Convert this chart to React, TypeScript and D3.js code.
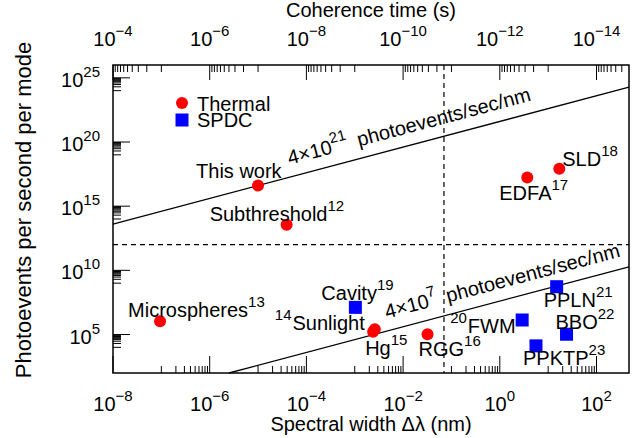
import * as d3 from "d3";

// axis ticks (every two decades on x, five on y)
const widthTicks = [1e-8, 1e-6, 1e-4, 1e-2, 1, 1e2];
const timeTicks = [1e-4, 1e-6, 1e-8, 1e-10, 1e-12, 1e-14];
const rateTicks = [1e5, 1e10, 1e15, 1e20, 1e25];

// thermal sources: spectral width (nm), photoevents per second per mode
const thermalNames = ["This work", "Subthreshold", "EDFA", "SLD", "Microspheres", "Sunlight", "Hg", "RGG"];
const thermalRefs = ["", "12", "17", "18", "13", "14", "15", "16"];
const thermalWidth = [1e-5, 3.9e-5, 3.7, 17, 9.4e-8, 2.6e-3, 2.4e-3, 0.032];
const thermalRate = [4e16, 3.5e13, 1.7e17, 8.4e17, 1.07e6, 2.6e5, 1.66e5, 1.05e5];

// SPDC sources
const spdcNames = ["Cavity", "PPLN", "FWM", "BBO", "PPKTP"];
const spdcRefs = ["19", "21", "20", "22", "23"];
const spdcWidth = [1.03e-3, 15, 2.9, 24, 5.6];
const spdcRate = [1.3e7, 5.3e8, 1.35e6, 1.05e5, 1.3e4];

// constant spectral brightness lines (photoevents/sec/nm)
const fluxLevels = [4e21, 4e7];
const fluxMantissa = ["4", "4"];
const fluxExp = ["21", "7"];
const fluxLabelAt = [5.2e-5, 5.3e-3];

const widthCut = 0.07;
const rateCut = 1e12;
const timeConst = 1e-12; // tau = timeConst / width

// label placement, relative to marker (px)
const labelPos: Record<string, { dx: number; dy: number; pre?: boolean }> = {
  "This work": { dx: -62, dy: -8 },
  Subthreshold: { dx: -77, dy: -4 },
  EDFA: { dx: -28, dy: 22 },
  SLD: { dx: 3, dy: -3 },
  Microspheres: { dx: -32, dy: -4 },
  Sunlight: { dx: -100, dy: 1, pre: true },
  Hg: { dx: -8, dy: 23 },
  RGG: { dx: -9, dy: 22 },
  Cavity: { dx: -34, dy: -7 },
  PPLN: { dx: -13, dy: 20 },
  FWM: { dx: -72, dy: 13, pre: true },
  BBO: { dx: -11, dy: -5 },
  PPKTP: { dx: -13, dy: 19 },
};

const FONT = '"Liberation Sans", Arial, Helvetica, sans-serif';
const FS = 20;
const SUP = 15;
const RAISE = 10;

const left = 113, right = 629, top = 65, bottom = 373;

const x = d3.scaleLog().domain([1e-8, 470]).range([left, right]);
const xt = d3.scaleLog().domain([timeConst / 1e-8, timeConst / 470]).range([left, right]);
const y = d3.scaleLog().domain([1e2, 1e26]).range([bottom, top]);

const expOf = (v: number) => {
  const e = Math.round(Math.log10(v));
  return e < 0 ? "\u2212" + Math.abs(e) : String(e);
};

const minorsOf = (majors: number[], lo: number, hi: number) => {
  const out: number[] = [];
  majors.forEach(M => {
    for (let m = 1; m <= 9; m++) {
      const v = (m * M) / 10;
      if (v >= Math.min(lo, hi) && v <= Math.max(lo, hi)) out.push(v);
    }
  });
  return out;
};

function Pow({ exp }: { exp: string }) {
  return (
    <>
      <tspan>10</tspan>
      <tspan dy={-RAISE} fontSize={SUP}>{exp}</tspan>
    </>
  );
}

function Label({ name, refn, px, py }: { name: string; refn: string; px: number; py: number }) {
  const p = labelPos[name];
  if (p.pre) {
    return (
      <text x={px + p.dx} y={py + p.dy}>
        <tspan dy={-RAISE} fontSize={SUP}>{refn}</tspan>
        <tspan dy={RAISE} dx={1}>{name}</tspan>
      </text>
    );
  }
  return (
    <text x={px + p.dx} y={py + p.dy}>
      <tspan>{name}</tspan>
      {refn && <tspan dy={-RAISE} fontSize={SUP}>{refn}</tspan>}
    </text>
  );
}

export default function App() {
  const [xl, xh] = x.domain();
  const [yl, yh] = y.domain();

  const xMinor = minorsOf(widthTicks, xl, xh);
  const tMinor = minorsOf(timeTicks, xt.domain()[0], xt.domain()[1]);
  const yMinor = minorsOf(rateTicks, yl, yh);

  const line = d3.line<[number, number]>().x(d => x(d[0])).y(d => y(d[1]));

  return (
    <svg width={640} height={438} style={{ position: "absolute", left: 0, top: 0 }}
      fontFamily={FONT} fontSize={FS} fill="#000">
      <rect width={640} height={438} fill="#fff" />

      {/* dashed cut lines */}
      <line x1={x(widthCut)} x2={x(widthCut)} y1={top} y2={bottom} stroke="#000" strokeWidth={1.2} strokeDasharray="5,4" />
      <line x1={left} x2={right} y1={y(rateCut)} y2={y(rateCut)} stroke="#000" strokeWidth={1.2} strokeDasharray="5,4" />

      {/* brightness lines */}
      {fluxLevels.map((lv, i) => {
        const a = Math.max(xl, yl / lv);
        const b = Math.min(xh, yh / lv);
        const pts: [number, number][] = [[a, lv * a], [b, lv * b]];
        const ang = (Math.atan2(y(lv * b) - y(lv * a), x(b) - x(a)) * 180) / Math.PI;
        const lx = fluxLabelAt[i];
        return (
          <g key={`flux-${i}`}>
            <path d={line(pts) ?? ""} fill="none" stroke="#000" strokeWidth={1.3} />
            <text transform={`translate(${x(lx)},${y(lv * lx)}) rotate(${ang})`} y={-12}>
              <tspan>{fluxMantissa[i]}×10</tspan>
              <tspan dy={-RAISE} fontSize={SUP}>{fluxExp[i]}</tspan>
              <tspan dy={RAISE} dx={10}>photoevents/sec/nm</tspan>
            </text>
          </g>
        );
      })}

      {/* bottom axis ticks */}
      {widthTicks.map(v => (
        <line key={`bM${v}`} x1={x(v)} x2={x(v)} y1={bottom} y2={bottom - 17} stroke="#000" />
      ))}
      {xMinor.map(v => (
        <line key={`bm${v}`} x1={x(v)} x2={x(v)} y1={bottom} y2={bottom - 7} stroke="#000" />
      ))}
      {/* top axis ticks */}
      {timeTicks.map(v => (
        <line key={`tM${v}`} x1={xt(v)} x2={xt(v)} y1={top} y2={top + 15} stroke="#000" />
      ))}
      {tMinor.map(v => (
        <line key={`tm${v}`} x1={xt(v)} x2={xt(v)} y1={top} y2={top + 7} stroke="#000" />
      ))}
      {/* left axis ticks */}
      {rateTicks.map(v => (
        <line key={`lM${v}`} x1={left} x2={left + 17} y1={y(v)} y2={y(v)} stroke="#000" />
      ))}
      {yMinor.map(v => (
        <line key={`lm${v}`} x1={left} x2={left + 8} y1={y(v)} y2={y(v)} stroke="#000" />
      ))}

      <rect x={left} y={top} width={right - left} height={bottom - top} fill="none" stroke="#000" strokeWidth={1.5} />

      {/* tick labels */}
      {widthTicks.map(v => (
        <text key={`bl${v}`} x={x(v)} y={411} textAnchor="middle"><Pow exp={expOf(v)} /></text>
      ))}
      {timeTicks.map(v => (
        <text key={`tl${v}`} x={xt(v)} y={46} textAnchor="middle"><Pow exp={expOf(v)} /></text>
      ))}
      {rateTicks.map(v => (
        <text key={`ll${v}`} x={100} y={y(v) + 9} textAnchor="end"><Pow exp={expOf(v)} /></text>
      ))}

      {/* axis titles */}
      <text x={(left + right) / 2} y={431} textAnchor="middle">Spectral width Δλ (nm)</text>
      <text x={(left + right) / 2} y={17} textAnchor="middle">Coherence time (s)</text>
      <text transform={`translate(31,210) rotate(-90)`} textAnchor="middle" fontSize={22}>
        Photoevents per second per mode
      </text>

      {/* markers */}
      {thermalNames.map((n, i) => (
        <circle key={`th-${n}`} cx={x(thermalWidth[i])} cy={y(thermalRate[i])} r={6} fill="#ff0000" />
      ))}
      {spdcNames.map((n, i) => (
        <rect key={`sp-${n}`} x={x(spdcWidth[i]) - 6.5} y={y(spdcRate[i]) - 6.5} width={13} height={13} fill="#0000ff" />
      ))}

      {/* labels */}
      {thermalNames.map((n, i) => (
        <Label key={`tl-${n}`} name={n} refn={thermalRefs[i]} px={x(thermalWidth[i])} py={y(thermalRate[i])} />
      ))}
      {spdcNames.map((n, i) => (
        <Label key={`sl-${n}`} name={n} refn={spdcRefs[i]} px={x(spdcWidth[i])} py={y(spdcRate[i])} />
      ))}

      {/* legend */}
      <circle cx={182} cy={103} r={6} fill="#ff0000" />
      <text x={197} y={111}>Thermal</text>
      <rect x={175.5} y={113.5} width={13} height={13} fill="#0000ff" />
      <text x={197} y={127}>SPDC</text>
    </svg>
  );
}
